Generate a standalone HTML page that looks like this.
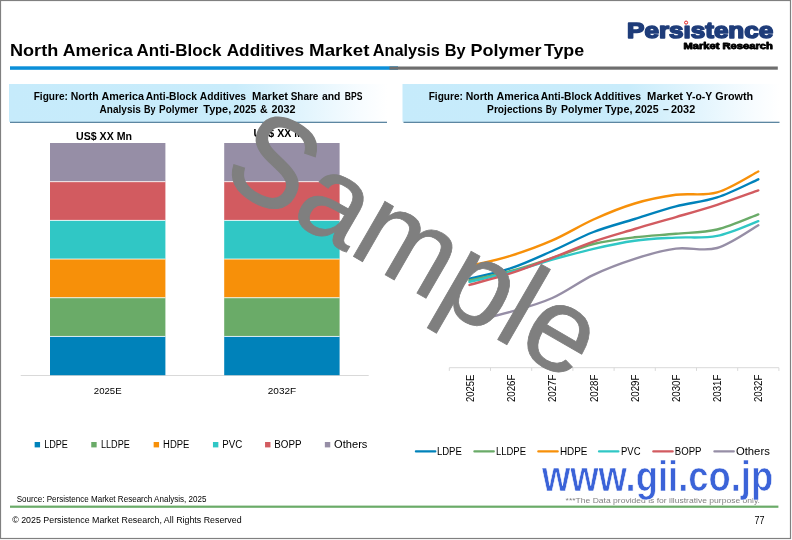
<!DOCTYPE html>
<html lang="en">
<head>
<meta charset="utf-8">
<title>North America Anti-Block Additives Market Analysis By Polymer Type</title>
<style>
html,body{margin:0;padding:0;background:#fff;}
body{width:792px;height:540px;overflow:hidden;}
svg{display:block;font-family:"Liberation Sans",Arial,Helvetica,sans-serif;}
text{white-space:pre;}
.b{font-weight:bold;}
</style>
</head>
<body>
<svg width="792" height="540" viewBox="0 0 792 540">
<defs>
<linearGradient id="hg" x1="0" y1="0" x2="1" y2="0">
<stop offset="0" stop-color="#c6ebfb"/>
<stop offset="0.6" stop-color="#c9ecfb"/>
<stop offset="0.79" stop-color="#e3f5fd"/>
<stop offset="0.93" stop-color="#f7fcff"/>
<stop offset="1" stop-color="#ffffff"/>
</linearGradient>
</defs>
<rect x="0" y="0" width="792" height="540" fill="#fff"/>
<rect x="0.5" y="0.5" width="790" height="538" fill="none" stroke="#808080" stroke-width="1.2"/>

<!-- title -->
<text y="56" font-size="16.4" class="b"><tspan x="10.0" textLength="48.2" lengthAdjust="spacingAndGlyphs">North</tspan> <tspan x="62.7" textLength="70.1" lengthAdjust="spacingAndGlyphs">America</tspan> <tspan x="136.5" textLength="84.9" lengthAdjust="spacingAndGlyphs">Anti-Block</tspan> <tspan x="226.7" textLength="77.5" lengthAdjust="spacingAndGlyphs">Additives</tspan> <tspan x="309.1" textLength="60.3" lengthAdjust="spacingAndGlyphs">Market</tspan> <tspan x="372.7" textLength="67.1" lengthAdjust="spacingAndGlyphs">Analysis</tspan> <tspan x="444.7" textLength="20.9" lengthAdjust="spacingAndGlyphs">By</tspan> <tspan x="470.4" textLength="71.0" lengthAdjust="spacingAndGlyphs">Polymer</tspan> <tspan x="543.9" textLength="40.3" lengthAdjust="spacingAndGlyphs">Type</tspan></text>
<rect x="10" y="66.3" width="388" height="3.5" fill="#0b8fd9"/>
<rect x="389.5" y="66.5" width="388.3" height="3.2" fill="#6e6e6e"/>

<!-- logo -->
<g id="logo">
<text x="627.1" y="37.9" font-size="22.3" font-weight="bold" fill="#1f3d7a" stroke="#1f3d7a" stroke-width="1.6" stroke-linejoin="round" textLength="146.1" lengthAdjust="spacingAndGlyphs">Persistence</text>
<rect x="682.4" y="19" width="7.6" height="6.2" fill="#fff"/>
<circle cx="686.1" cy="22.6" r="1.55" fill="#fff" stroke="#e02020" stroke-width="1"/>
<text x="683.4" y="48.7" font-size="8.2" font-weight="bold" fill="#000" stroke="#000" stroke-width="0.8" stroke-linejoin="round" textLength="89.4" lengthAdjust="spacingAndGlyphs">Market Research</text>
</g>

<!-- left figure header -->
<rect x="9" y="84" width="378" height="37.8" fill="url(#hg)"/>
<rect x="10" y="121.75" width="377" height="1.05" fill="#35698a"/>
<text y="99.9" font-size="10" class="b"><tspan x="33.7" textLength="34.2" lengthAdjust="spacingAndGlyphs">Figure:</tspan> <tspan x="70.7" textLength="27.9" lengthAdjust="spacingAndGlyphs">North</tspan> <tspan x="101.4" textLength="42.6" lengthAdjust="spacingAndGlyphs">America</tspan> <tspan x="145.7" textLength="51.3" lengthAdjust="spacingAndGlyphs">Anti-Block</tspan> <tspan x="199.8" textLength="46.3" lengthAdjust="spacingAndGlyphs">Additives</tspan> <tspan x="252.1" textLength="36.0" lengthAdjust="spacingAndGlyphs">Market</tspan> <tspan x="290.7" textLength="27.7" lengthAdjust="spacingAndGlyphs">Share</tspan> <tspan x="321.9" textLength="18.5" lengthAdjust="spacingAndGlyphs">and</tspan> <tspan x="344.8" textLength="17.6" lengthAdjust="spacingAndGlyphs">BPS</tspan></text>
<text y="112.8" font-size="10" class="b"><tspan x="99.6" textLength="41.3" lengthAdjust="spacingAndGlyphs">Analysis</tspan> <tspan x="144.1" textLength="11.5" lengthAdjust="spacingAndGlyphs">By</tspan> <tspan x="159.1" textLength="39.0" lengthAdjust="spacingAndGlyphs">Polymer</tspan> <tspan x="203.2" textLength="28.1" lengthAdjust="spacingAndGlyphs">Type,</tspan> <tspan x="233.5" textLength="22.8" lengthAdjust="spacingAndGlyphs">2025</tspan> <tspan x="260.1" textLength="7.6" lengthAdjust="spacingAndGlyphs">&amp;</tspan> <tspan x="271.4" textLength="24.0" lengthAdjust="spacingAndGlyphs">2032</tspan></text>

<!-- right figure header -->
<rect x="402.5" y="84" width="377" height="37.8" fill="url(#hg)"/>
<rect x="403.5" y="121.75" width="376" height="1.05" fill="#35698a"/>
<text y="99.9" font-size="10" class="b"><tspan x="428.7" textLength="34.2" lengthAdjust="spacingAndGlyphs">Figure:</tspan> <tspan x="465.7" textLength="27.9" lengthAdjust="spacingAndGlyphs">North</tspan> <tspan x="496.4" textLength="42.6" lengthAdjust="spacingAndGlyphs">America</tspan> <tspan x="540.7" textLength="51.3" lengthAdjust="spacingAndGlyphs">Anti-Block</tspan> <tspan x="594.1" textLength="47.0" lengthAdjust="spacingAndGlyphs">Additives</tspan> <tspan x="647.1" textLength="36.0" lengthAdjust="spacingAndGlyphs">Market</tspan> <tspan x="685.7" textLength="26.3" lengthAdjust="spacingAndGlyphs">Y-o-Y</tspan> <tspan x="715.3" textLength="37.8" lengthAdjust="spacingAndGlyphs">Growth</tspan></text>
<text y="112.8" font-size="10" class="b"><tspan x="487.1" textLength="55.6" lengthAdjust="spacingAndGlyphs">Projections</tspan> <tspan x="545.7" textLength="11.1" lengthAdjust="spacingAndGlyphs">By</tspan> <tspan x="561.0" textLength="41.4" lengthAdjust="spacingAndGlyphs">Polymer</tspan> <tspan x="605.1" textLength="27.3" lengthAdjust="spacingAndGlyphs">Type,</tspan> <tspan x="635.1" textLength="23.5" lengthAdjust="spacingAndGlyphs">2025</tspan> <tspan x="663.0" textLength="5.8" lengthAdjust="spacingAndGlyphs">–</tspan> <tspan x="671.0" textLength="24.2" lengthAdjust="spacingAndGlyphs">2032</tspan></text>

<!-- bar chart -->
<g id="bars">
<rect x="20.7" y="375" width="348" height="1" fill="#d9d9d9"/>
<rect x="50" y="143" width="115.4" height="38.65" fill="#968ea6"/>
<rect x="50" y="181.65" width="115.4" height="38.65" fill="#d25b60"/>
<rect x="50" y="220.3" width="115.4" height="38.70" fill="#30c7c5"/>
<rect x="50" y="259.0" width="115.4" height="38.70" fill="#f79009"/>
<rect x="50" y="297.7" width="115.4" height="38.65" fill="#6aab68"/>
<rect x="50" y="336.35" width="115.4" height="38.85" fill="#0082ba"/>
<rect x="50" y="181.25" width="115.4" height="0.9" fill="#fff" fill-opacity="0.9"/>
<rect x="50" y="219.90" width="115.4" height="0.9" fill="#fff" fill-opacity="0.9"/>
<rect x="50" y="258.60" width="115.4" height="0.9" fill="#fff" fill-opacity="0.9"/>
<rect x="50" y="297.30" width="115.4" height="0.9" fill="#fff" fill-opacity="0.9"/>
<rect x="50" y="335.95" width="115.4" height="0.9" fill="#fff" fill-opacity="0.9"/>
<rect x="224.2" y="143" width="115.4" height="38.65" fill="#968ea6"/>
<rect x="224.2" y="181.65" width="115.4" height="38.65" fill="#d25b60"/>
<rect x="224.2" y="220.3" width="115.4" height="38.70" fill="#30c7c5"/>
<rect x="224.2" y="259.0" width="115.4" height="38.70" fill="#f79009"/>
<rect x="224.2" y="297.7" width="115.4" height="38.65" fill="#6aab68"/>
<rect x="224.2" y="336.35" width="115.4" height="38.85" fill="#0082ba"/>
<rect x="224.2" y="181.25" width="115.4" height="0.9" fill="#fff" fill-opacity="0.9"/>
<rect x="224.2" y="219.90" width="115.4" height="0.9" fill="#fff" fill-opacity="0.9"/>
<rect x="224.2" y="258.60" width="115.4" height="0.9" fill="#fff" fill-opacity="0.9"/>
<rect x="224.2" y="297.30" width="115.4" height="0.9" fill="#fff" fill-opacity="0.9"/>
<rect x="224.2" y="335.95" width="115.4" height="0.9" fill="#fff" fill-opacity="0.9"/>
<text class="b" x="76" y="139.7" font-size="10" textLength="56" lengthAdjust="spacingAndGlyphs">US$ XX Mn</text>
<text class="b" x="253.6" y="136.7" font-size="10" textLength="56" lengthAdjust="spacingAndGlyphs">US$ XX Mn</text>
<text x="93.8" y="393.7" font-size="9.2" textLength="27.8" lengthAdjust="spacingAndGlyphs">2025E</text>
<text x="267.8" y="393.7" font-size="9.2" textLength="28.4" lengthAdjust="spacingAndGlyphs">2032F</text>
</g>

<!-- bar legend -->
<g id="blegend" font-size="10">
<rect x="34.65" y="442.0" width="5.4" height="5.4" fill="#0082ba"/>
<text x="44.2" y="447.8" textLength="23.7" lengthAdjust="spacingAndGlyphs">LDPE</text>
<rect x="91.25" y="442.0" width="5.4" height="5.4" fill="#6aab68"/>
<text x="101.0" y="447.8" textLength="28.8" lengthAdjust="spacingAndGlyphs">LLDPE</text>
<rect x="153.65" y="442.0" width="5.4" height="5.4" fill="#f79009"/>
<text x="163.1" y="447.8" textLength="26.3" lengthAdjust="spacingAndGlyphs">HDPE</text>
<rect x="212.95" y="442.0" width="5.4" height="5.4" fill="#30c7c5"/>
<text x="222.2" y="447.8" textLength="20.0" lengthAdjust="spacingAndGlyphs">PVC</text>
<rect x="265.05" y="442.0" width="5.4" height="5.4" fill="#d25b60"/>
<text x="274.2" y="447.8" textLength="27.3" lengthAdjust="spacingAndGlyphs">BOPP</text>
<rect x="324.85" y="442.0" width="5.4" height="5.4" fill="#968ea6"/>
<text x="334.1" y="447.8" textLength="33.3" lengthAdjust="spacingAndGlyphs">Others</text>
</g>

<!-- line chart -->
<g id="lines" fill="none" stroke-width="2.4" stroke-linecap="round" stroke-linejoin="round">
<path stroke="#0082ba" d="M469.5,278.8 C476.4,277.0 497.3,272.8 511.1,268.2 C524.9,263.6 538.6,257.0 552.3,251.0 C566.0,245.0 579.8,237.3 593.5,232.0 C607.2,226.7 621.0,223.3 634.7,219.0 C648.4,214.7 662.2,210.0 675.9,206.4 C689.6,202.8 703.4,201.9 717.1,197.4 C730.8,192.9 751.4,182.3 758.3,179.3"/>
<path stroke="#6aab68" d="M469.5,280.4 C476.4,278.8 497.3,274.7 511.1,271.0 C524.9,267.3 538.6,262.5 552.3,258.0 C566.0,253.5 579.8,247.4 593.5,244.0 C607.2,240.6 621.0,239.0 634.7,237.3 C648.4,235.6 662.2,235.1 675.9,233.8 C689.6,232.5 703.4,232.7 717.1,229.5 C730.8,226.3 751.4,216.9 758.3,214.4"/>
<path stroke="#f79009" d="M469.5,266.0 C476.4,264.3 497.3,259.9 511.1,255.6 C524.9,251.3 538.6,246.4 552.3,240.4 C566.0,234.4 579.8,225.7 593.5,219.5 C607.2,213.3 621.0,207.6 634.7,203.5 C648.4,199.4 662.2,196.7 675.9,194.8 C689.6,193.0 703.4,196.3 717.1,192.4 C730.8,188.5 751.4,175.0 758.3,171.5"/>
<path stroke="#30c7c5" d="M469.5,281.9 C476.4,280.2 497.3,275.7 511.1,272.0 C524.9,268.3 538.6,263.6 552.3,259.7 C566.0,255.8 579.8,252.0 593.5,248.8 C607.2,245.6 621.0,242.6 634.7,240.7 C648.4,238.8 662.2,238.4 675.9,237.6 C689.6,236.8 703.4,238.6 717.1,235.9 C730.8,233.2 751.4,223.6 758.3,221.2"/>
<path stroke="#d25b60" d="M469.5,284.9 C476.4,282.9 497.3,277.7 511.1,273.2 C524.9,268.7 538.6,263.1 552.3,257.8 C566.0,252.5 579.8,246.4 593.5,241.6 C607.2,236.8 621.0,233.1 634.7,229.0 C648.4,224.9 662.2,221.1 675.9,217.1 C689.6,213.1 703.4,209.2 717.1,204.8 C730.8,200.4 751.4,192.8 758.3,190.4"/>
<path stroke="#968ea6" d="M469.5,322.0 C476.4,320.3 497.3,315.7 511.1,311.7 C524.9,307.7 538.6,304.1 552.3,298.0 C566.0,291.9 579.8,281.3 593.5,274.8 C607.2,268.3 621.0,263.2 634.7,258.8 C648.4,254.4 662.2,250.4 675.9,248.6 C689.6,246.8 703.4,251.9 717.1,248.0 C730.8,244.1 751.4,229.1 758.3,225.3"/>
</g>
<g id="xaxis" stroke="#d9d9d9" stroke-width="1" fill="none">
<path d="M449.3,367.7 H778.9"/>
<path d="M449.3,367.7 v3.2 M490.5,367.7 v3.2 M531.7,367.7 v3.2 M572.9,367.7 v3.2 M614.1,367.7 v3.2 M655.3,367.7 v3.2 M696.5,367.7 v3.2 M737.7,367.7 v3.2 M778.9,367.7 v3.2"/>
</g>
<g id="xlabels" font-size="10.3">
<text transform="translate(473.6,402.1) rotate(-90)" textLength="27.4" lengthAdjust="spacingAndGlyphs">2025E</text>
<text transform="translate(515.2,402.1) rotate(-90)" textLength="27.4" lengthAdjust="spacingAndGlyphs">2026F</text>
<text transform="translate(556.4,402.1) rotate(-90)" textLength="27.4" lengthAdjust="spacingAndGlyphs">2027F</text>
<text transform="translate(597.6,402.1) rotate(-90)" textLength="27.4" lengthAdjust="spacingAndGlyphs">2028F</text>
<text transform="translate(638.8,402.1) rotate(-90)" textLength="27.4" lengthAdjust="spacingAndGlyphs">2029F</text>
<text transform="translate(680.0,402.1) rotate(-90)" textLength="27.4" lengthAdjust="spacingAndGlyphs">2030F</text>
<text transform="translate(721.2,402.1) rotate(-90)" textLength="27.4" lengthAdjust="spacingAndGlyphs">2031F</text>
<text transform="translate(762.4,402.1) rotate(-90)" textLength="27.4" lengthAdjust="spacingAndGlyphs">2032F</text>
</g>

<!-- line legend -->
<g id="llegend" font-size="10.5">
<rect x="414.8" y="450.2" width="21.6" height="2.3" rx="1.1" fill="#0082ba"/>
<text x="436.9" y="454.8" textLength="25.0" lengthAdjust="spacingAndGlyphs">LDPE</text>
<rect x="473.3" y="450.2" width="21.6" height="2.3" rx="1.1" fill="#6aab68"/>
<text x="496.0" y="454.8" textLength="30.0" lengthAdjust="spacingAndGlyphs">LLDPE</text>
<rect x="537.2" y="450.2" width="21.6" height="2.3" rx="1.1" fill="#f79009"/>
<text x="559.9" y="454.8" textLength="27.5" lengthAdjust="spacingAndGlyphs">HDPE</text>
<rect x="597.9" y="450.2" width="21.6" height="2.3" rx="1.1" fill="#30c7c5"/>
<text x="621.0" y="454.8" textLength="19.5" lengthAdjust="spacingAndGlyphs">PVC</text>
<rect x="652.2" y="450.2" width="21.6" height="2.3" rx="1.1" fill="#d25b60"/>
<text x="674.8" y="454.8" textLength="26.7" lengthAdjust="spacingAndGlyphs">BOPP</text>
<rect x="713.3" y="450.2" width="21.6" height="2.3" rx="1.1" fill="#968ea6"/>
<text x="735.9" y="454.8" textLength="33.9" lengthAdjust="spacingAndGlyphs">Others</text>
</g>

<!-- footer -->
<text x="16.7" y="501.7" font-size="8.2" textLength="189.8" lengthAdjust="spacingAndGlyphs">Source: Persistence Market Research Analysis, 2025</text>
<rect x="10" y="505.6" width="768.4" height="2.2" fill="#6aab68"/>
<text x="12.2" y="523" font-size="9.2" textLength="229.4" lengthAdjust="spacingAndGlyphs">© 2025 Persistence Market Research, All Rights Reserved</text>
<text x="754.6" y="523.7" font-size="10" textLength="10" lengthAdjust="spacingAndGlyphs">77</text>
<text x="565.6" y="503.3" font-size="7.6" fill="#7f7f7f" textLength="194.4" lengthAdjust="spacingAndGlyphs">***The Data provided is for illustrative purpose only.</text>

<!-- watermarks -->
<text id="gii" x="542" y="490.8" font-size="41.6" font-weight="bold" fill="#3b63d8" stroke="#fff" stroke-width="0.7" textLength="231.2" lengthAdjust="spacingAndGlyphs">www.gii.co.jp</text>
<text id="sample" transform="translate(219.2,178.9) rotate(30)" font-size="120" fill="#7f7f7f" stroke="#7f7f7f" stroke-width="0.8"><tspan font-size="127.5" x="0.5" dy="1.6" stroke-width="1.4" textLength="79" lengthAdjust="spacingAndGlyphs">S</tspan><tspan x="80" dy="-1.6">ample</tspan></text>
</svg>
</body>
</html>
